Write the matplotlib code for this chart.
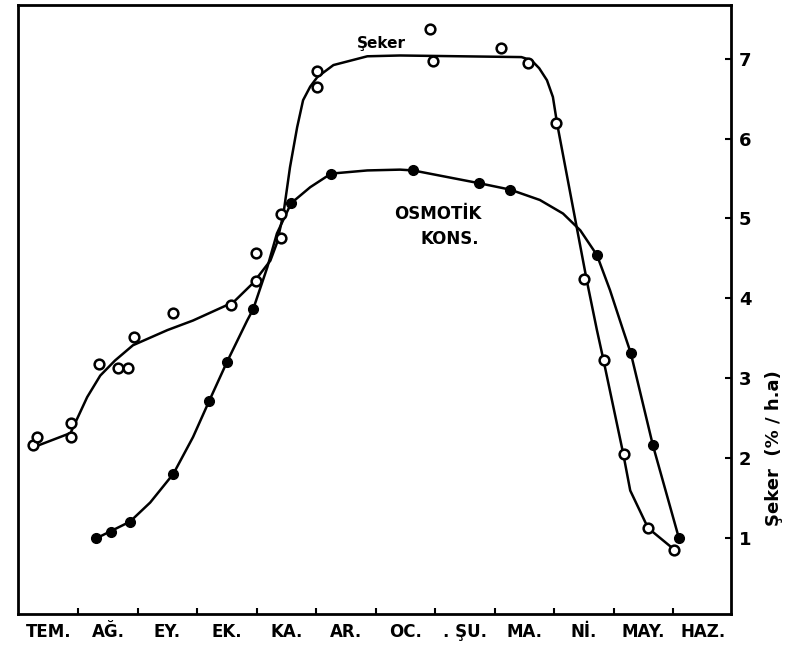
import numpy as np
import matplotlib.pyplot as plt

months = ["TEM.", "AĞ.", "EY.", "EK.", "KA.", "AR.", "OC.", ". ŞU.", "MA.", "Nİ.", "MAY.", "HAZ."]

# measured points (x in months from first tick, y in right-axis units)
seker_x = [-0.76, -0.69, -0.12, -0.12, 0.35, 0.66, 0.83, 0.94, 1.60, 2.57, 2.99, 2.99,
           3.41, 3.41, 4.02, 4.02, 5.92, 5.97, 7.11, 7.56, 8.03, 8.50, 8.84, 9.18, 9.58, 10.02]
seker_y = [2.16, 2.26, 2.44, 2.26, 3.18, 3.12, 3.12, 3.51, 3.81, 3.91, 4.56, 4.21,
           5.05, 4.75, 6.85, 6.64, 7.37, 6.97, 7.13, 6.94, 6.19, 4.24, 3.23, 2.05, 1.12, 0.85]

osm_x = [0.30, 0.55, 0.87, 1.60, 2.20, 2.50, 2.94, 3.58, 4.25, 5.63, 6.74, 7.26, 8.72,
         9.29, 9.66, 10.10]
osm_y = [0.99, 1.07, 1.20, 1.80, 2.71, 3.20, 3.86, 5.19, 5.56, 5.60, 5.44, 5.36, 4.54,
         3.31, 2.16, 0.99]

# hand drawn fitted curves
seker_cx = [-0.76, -0.13, 0.15, 0.37, 0.62, 0.92, 1.50, 1.93, 2.61, 2.94, 3.23, 3.34,
            3.45, 3.56, 3.68, 3.78, 3.90, 4.02, 4.29, 4.86, 5.41, 7.45, 7.62, 7.75,
            7.88, 7.98, 8.05, 8.39, 8.55, 8.72, 8.82, 9.16, 9.28, 9.58, 10.02]
seker_cy = [2.13, 2.31, 2.76, 3.03, 3.22, 3.41, 3.60, 3.72, 3.95, 4.19, 4.47, 4.69,
            5.06, 5.64, 6.14, 6.48, 6.65, 6.77, 6.92, 7.03, 7.04, 7.02, 6.98, 6.88,
            6.73, 6.52, 6.19, 4.85, 4.22, 3.60, 3.26, 2.06, 1.59, 1.12, 0.85]

osm_cx = [0.30, 0.87, 1.21, 1.60, 1.93, 2.20, 2.50, 2.84, 2.94, 3.18, 3.34, 3.58, 3.90,
          4.25, 4.86, 5.41, 5.63, 6.74, 7.26, 7.76, 8.15, 8.44, 8.72, 8.94, 9.16,
          9.29, 9.66, 10.10]
osm_cy = [0.99, 1.20, 1.44, 1.80, 2.26, 2.71, 3.20, 3.72, 3.86, 4.39, 4.81, 5.19, 5.39,
          5.56, 5.60, 5.61, 5.60, 5.44, 5.36, 5.23, 5.06, 4.85, 4.54, 4.10, 3.60,
          3.31, 2.16, 0.99]

fig = plt.figure(figsize=(7.9, 6.5), dpi=100)
ax = fig.add_axes([0.023, 0.055, 0.902, 0.937])

ax.plot(seker_cx, seker_cy, color="black", lw=1.8)
ax.plot(osm_cx, osm_cy, color="black", lw=1.8)
ax.plot(seker_x, seker_y, "o", ms=7, mfc="white", mec="black", mew=1.8)
ax.plot(osm_x, osm_y, "o", ms=7, mfc="black", mec="black")

ax.set_xlim(-1.01, 10.97)
ax.set_ylim(0.04, 7.67)

for s in ax.spines.values():
    s.set_linewidth(2)

ax.set_xticks(range(11))
ax.set_xticks(np.arange(-0.5, 11, 1), minor=True)
ax.set_xticklabels([])
ax.set_xticklabels(months, minor=True, fontsize=12, fontweight="bold")
ax.tick_params(axis="x", which="major", direction="in", length=4, width=1.5)
ax.tick_params(axis="x", which="minor", length=0, pad=6)

ax.yaxis.tick_right()
ax.set_yticks(range(1, 8))
ax.set_yticklabels([str(i) for i in range(1, 8)], fontsize=13, fontweight="bold")
ax.tick_params(axis="y", direction="in", length=4, width=1.5, pad=6)

ax.text(5.1, 7.19, "Şeker", fontsize=11, fontweight="bold", ha="center", va="center")
ax.text(6.05, 5.06, "OSMOTİK", fontsize=12, fontweight="bold", ha="center", va="center")
ax.text(6.25, 4.74, "KONS.", fontsize=12, fontweight="bold", ha="center", va="center")

fig.text(0.98, 0.31, "Şeker  (% / h.a)", rotation=90, fontsize=13, fontweight="bold",
         ha="center", va="center")

fig.savefig("out.png", dpi=100)
